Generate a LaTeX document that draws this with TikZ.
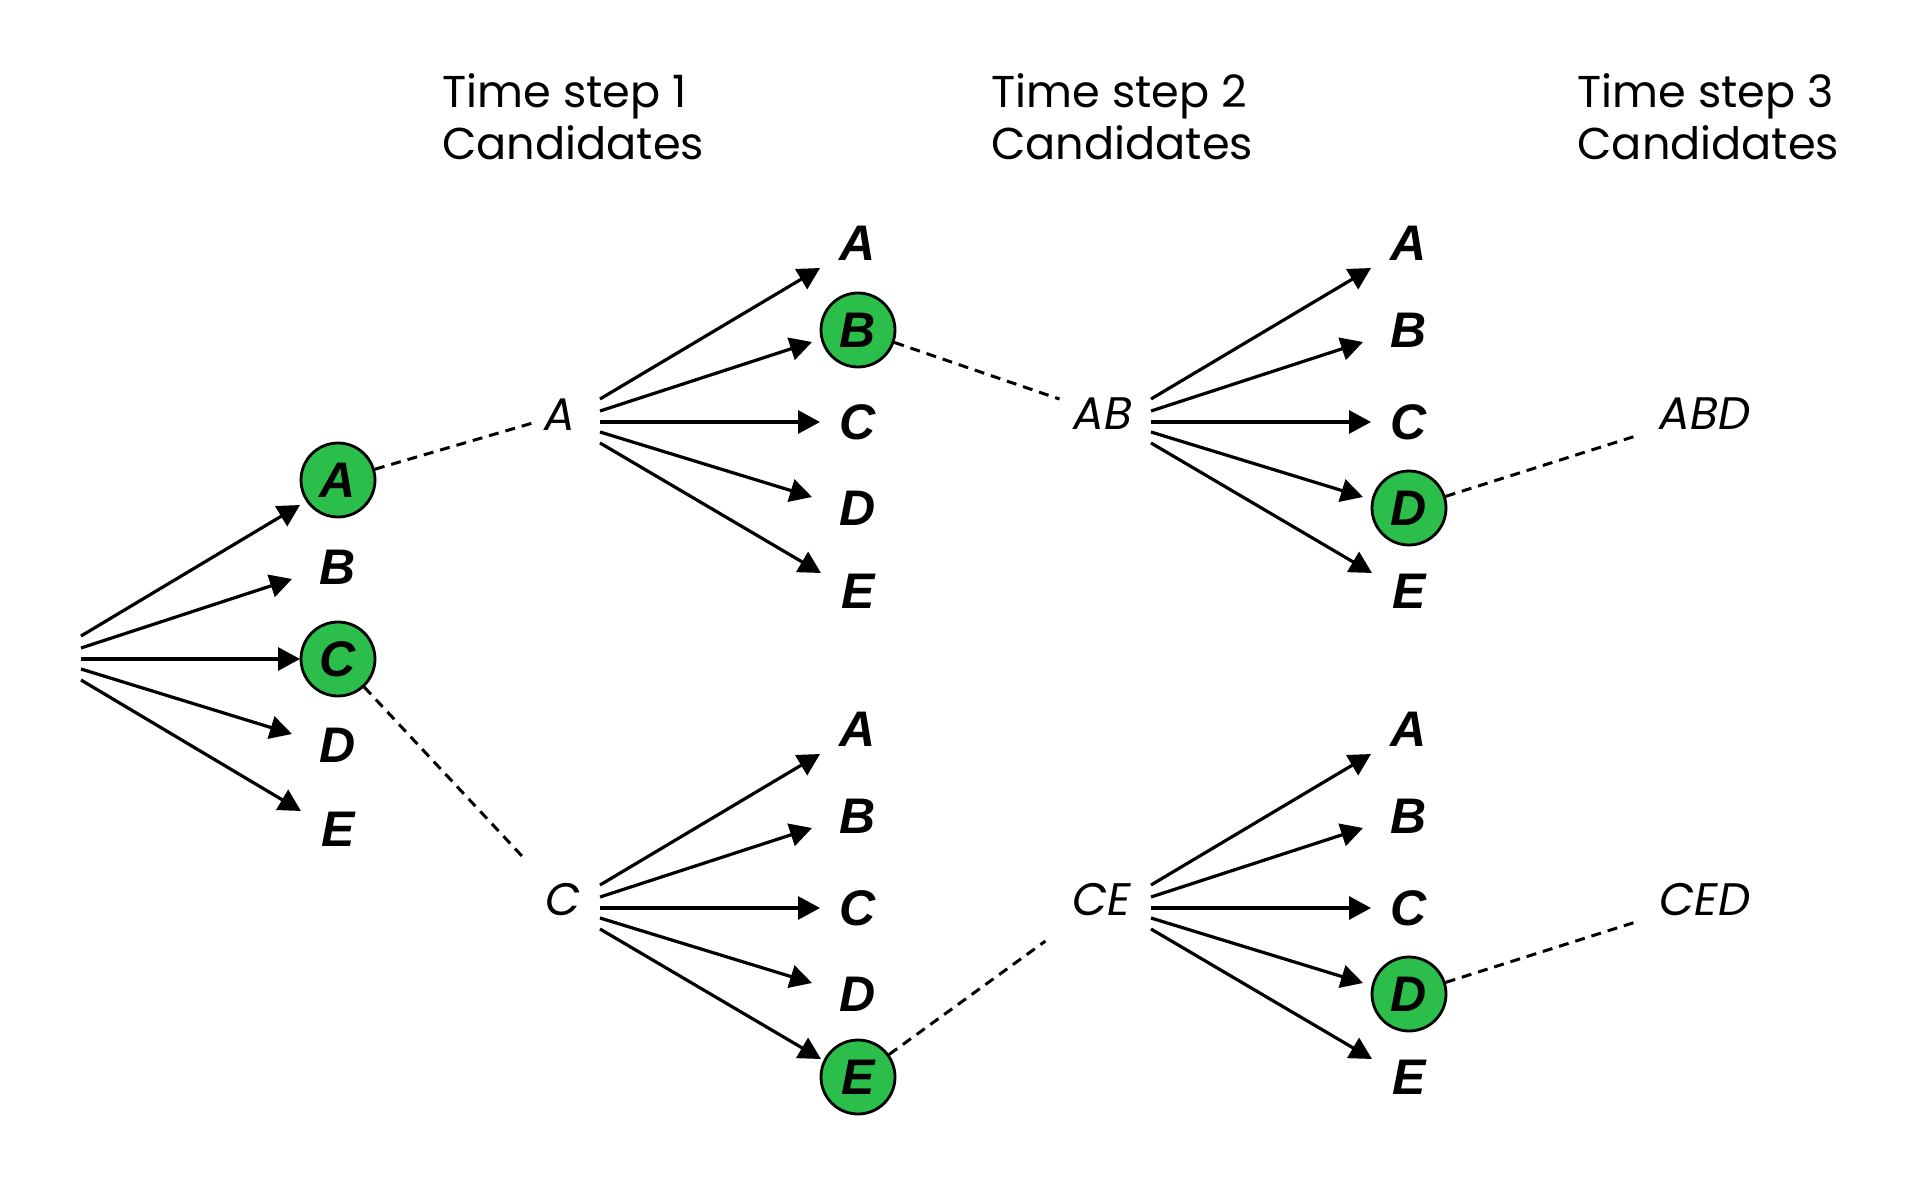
\documentclass[tikz,border=0pt]{standalone}
\usepackage{fontspec}
\setmainfont{Poppins}
\newfontfamily\candfont{Liberation Sans}
\usepackage{xcolor}
\usepackage{tikz}
\usetikzlibrary{arrows.meta}

\definecolor{pickgreen}{RGB}{44,190,74}
\tikzset{
    cand/.style={font=\candfont\fontsize{25}{26}\selectfont\bfseries\itshape, inner sep=0pt},
    pick/.style={cand, circle, draw=black, line width=1.4pt, fill=pickgreen, minimum size=37pt},
    seq/.style={font=\fontsize{22.8}{26}\selectfont\itshape, inner sep=0pt},
    hdr/.style={font=\fontsize{22.3}{26}\selectfont, inner sep=0pt, anchor=base west},
    fan/.style={line width=1.6pt, -{Triangle[length=11pt, width=11.5pt]}},
    link/.style={line width=1.5pt, dash pattern=on 5pt off 3.5pt}
}

\begin{document}
\begin{tikzpicture}[x=0.5pt, y=-0.5pt]
                    \useasboundingbox (0,0) rectangle (1920,1182);
                    % Headers
                    \node[hdr] (hd1a) at (442,108) {Time step 1};
                    \node[hdr] (hd1b) at (442,160) {Candidates};
                    \node[hdr] (hd2a) at (991,108) {Time step 2};
                    \node[hdr] (hd2b) at (991,160) {Candidates};
                    \node[hdr] (hd3a) at (1577,108) {Time step 3};
                    \node[hdr] (hd3b) at (1577,160) {Candidates};
                    % Fan origins
                    \coordinate (o1) at (81,659);
                    \coordinate (o2) at (600,422);
                    \coordinate (o3) at (600,908);
                    \coordinate (o4) at (1151,422);
                    \coordinate (o5) at (1151,908);
                    % Time step 1 candidates
                    \node[pick] (c1a) at (338,480) {A};
                    \node[cand] (c1b) at (338,567) {B};
                    \node[pick] (c1c) at (338,659) {C};
                    \node[cand] (c1d) at (338,745) {D};
                    \node[cand] (c1e) at (338,829) {E};
                    % Kept sequences
                    \node[seq] (pA) at (560,415) {A};
                    \node[seq] (pC) at (563,900) {C};
                    \node[seq] (pAB) at (1103,414) {AB};
                    \node[seq] (pCE) at (1102,900) {CE};
                    \node[seq] (pABD) at (1705,414) {ABD};
                    \node[seq] (pCED) at (1705,900) {CED};
                    % Time step 2 candidates
                    \node[cand] (c2a) at (858,243) {A};
                    \node[pick] (c2b) at (858,330) {B};
                    \node[cand] (c2c) at (858,422) {C};
                    \node[cand] (c2d) at (858,508) {D};
                    \node[cand] (c2e) at (858,591) {E};
                    \node[cand] (c3a) at (858,729) {A};
                    \node[cand] (c3b) at (858,816) {B};
                    \node[cand] (c3c) at (858,908) {C};
                    \node[cand] (c3d) at (858,994) {D};
                    \node[pick] (c3e) at (858,1077) {E};
                    % Time step 3 candidates
                    \node[cand] (c4a) at (1409,243) {A};
                    \node[cand] (c4b) at (1409,330) {B};
                    \node[cand] (c4c) at (1409,422) {C};
                    \node[pick] (c4d) at (1409,508) {D};
                    \node[cand] (c4e) at (1409,591) {E};
                    \node[cand] (c5a) at (1409,729) {A};
                    \node[cand] (c5b) at (1409,816) {B};
                    \node[cand] (c5c) at (1409,908) {C};
                    \node[pick] (c5d) at (1409,994) {D};
                    \node[cand] (c5e) at (1409,1077) {E};
                    % Arrows
                    \foreach \f in {1,...,5}
                        \foreach \n/\sy/\ex/\ey in {a/-23/-38/25, b/-11/-46/12, c/0/-38/0, d/10/-46/-11, e/21/-37/-18}
                            \draw[fan] ([shift={(0,\sy)}]o\f) -- ([shift={(\ex,\ey)}]c\f\n.center);
                    % Beam links
                    \draw[link, shorten >=13pt] (c1a) -- (pA.center);
                    \draw[link, shorten >=29pt] (c1c) -- (pC.center);
                    \draw[link, shorten >=23pt] (c2b) -- (pAB.center);
                    \draw[link, shorten >=35pt] (c3e) -- (pCE.center);
                    \draw[link, shorten >=35pt] (c4d) -- (pABD.center);
                    \draw[link, shorten >=35pt] (c5d) -- (pCED.center);
                \end{tikzpicture}
\end{document}
